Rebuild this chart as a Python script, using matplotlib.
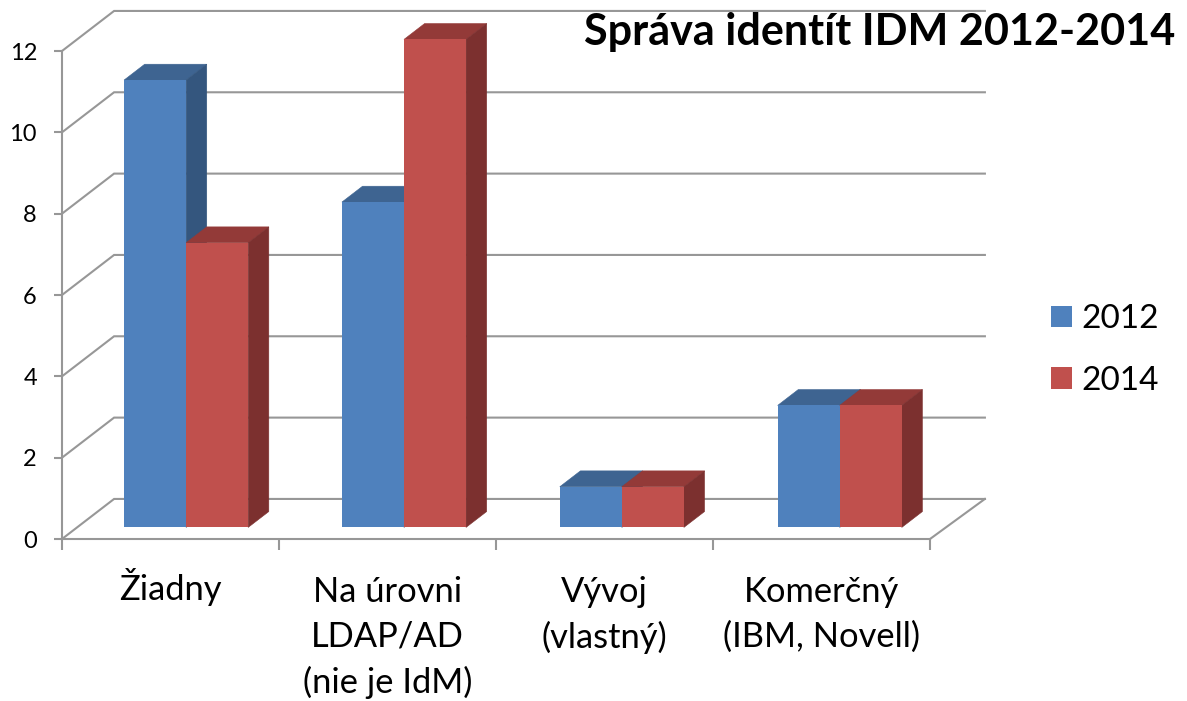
#!/usr/bin/env python3
"""Pseudo-3D clustered columns: identity management 2012 vs 2014."""

import matplotlib
matplotlib.use("Agg")
import matplotlib.pyplot as plt
from matplotlib.patches import Patch, Polygon

plt.rcParams["font.family"] = ["Lato", "DejaVu Sans"]

# -------- DATA ----------
CATEGORIES = ["Žiadny", "Na úrovni\nLDAP/AD\n(nie je IdM)", "Vývoj\n(vlastný)", "Komerčný\n(IBM, Novell)"]
VALUES_2012 = [11, 8, 1, 3]
VALUES_2014 = [7, 12, 1, 3]
SERIES_NAMES = ["2012", "2014"]
Y_TICKS = [0, 2, 4, 6, 8, 10, 12]
TITLE = "Správa identít IDM 2012-2014"

# -------- STYLE ----------
W, H = 1187, 701
LEFT, RIGHT, TOP, BOTTOM = 62, 930, 51, 539   # plot box in pixels
GREY = "#979797"
BLUE, BLUE_TOP, BLUE_SIDE = "#4F81BD", "#3E6491", "#34567E"
RED, RED_TOP, RED_SIDE = "#C0504D", "#933A38", "#7C302F"

WALL_DX, WALL_DY = 0.24, 0.985     # back wall offset, in data units
WALL_END = 0.253                   # back wall runs a little past the front edge
BAR_START = 0.286                  # gap from category edge to first bar
BAR_STEP = 1.004
BAR_W = 0.286
BAR_LIFT = 0.285                   # bars stand a bit behind the front edge
BAR_DX, BAR_DY = 0.095, 0.39       # depth of each bar
LABEL_DROP = [20.8, 26.6, 26.6, 26.6]   # points below the axis, per category label


def draw_bar(ax, x, value, front, top, side, z):
    y0, y1 = BAR_LIFT, BAR_LIFT + value
    ax.bar(x, value, width=BAR_W, bottom=y0, align="edge", color=front,
           zorder=z + 0.2, clip_on=False, linewidth=0)
    ax.add_patch(Polygon([(x, y1), (x + BAR_DX, y1 + BAR_DY),
                          (x + BAR_W + BAR_DX, y1 + BAR_DY), (x + BAR_W, y1)],
                         closed=True, facecolor=top, edgecolor=top, lw=0.4, zorder=z, clip_on=False))
    ax.add_patch(Polygon([(x + BAR_W, y0), (x + BAR_W + BAR_DX, y0 + BAR_DY),
                          (x + BAR_W + BAR_DX, y1 + BAR_DY), (x + BAR_W, y1)],
                         closed=True, facecolor=side, edgecolor=side, lw=0.4, zorder=z + 0.1, clip_on=False))


def main():
    fig = plt.figure(figsize=(W / 100, H / 100), dpi=100, facecolor="white")
    ax = fig.add_axes([LEFT / W, 1 - BOTTOM / H, (RIGHT - LEFT) / W, (BOTTOM - TOP) / H])
    ax.set_xlim(0, len(CATEGORIES))
    ax.set_ylim(0, max(Y_TICKS))
    ax.patch.set_visible(False)

    for s in ("top", "right"):
        ax.spines[s].set_visible(False)
    for s in ("left", "bottom"):
        ax.spines[s].set_color(GREY)
        ax.spines[s].set_linewidth(1.5)

    # axis ticks and labels
    ax.set_yticks(Y_TICKS)
    ax.tick_params(axis="y", length=6, width=1.5, color=GREY, labelsize=17, pad=12, labelcolor="black")
    ax.set_xticks(range(len(CATEGORIES) + 1))
    ax.set_xticklabels([])
    ax.tick_params(axis="x", which="major", length=8, width=1.5, color=GREY)
    for i, label in enumerate(CATEGORIES):
        ax.annotate(label, xy=(i + 0.5, 0), xycoords="data", xytext=(0, -LABEL_DROP[i]),
                    textcoords="offset points", ha="center", va="top", fontsize=24.8,
                    linespacing=1.48, color="black", annotation_clip=False)

    # walls and floor
    n = len(CATEGORIES)
    for v in Y_TICKS:
        ax.plot([0, WALL_DX, n + WALL_END], [v, v + WALL_DY, v + WALL_DY], color=GREY,
                lw=1.5, zorder=1, clip_on=False, solid_joinstyle="miter")
    ax.plot([n, n + WALL_END], [0, WALL_DY], color=GREY, lw=1.5, zorder=1, clip_on=False)

    # columns, blue first so that red sits on top of it
    for i in range(n):
        x = i * BAR_STEP + BAR_START
        draw_bar(ax, x, VALUES_2012[i], BLUE, BLUE_TOP, BLUE_SIDE, 3)
        draw_bar(ax, x + BAR_W, VALUES_2014[i], RED, RED_TOP, RED_SIDE, 4)

    fig.text(1175 / W, 1 - 32 / H, TITLE, ha="right", va="center", fontsize=31.1, fontweight="bold", color="black")

    handles = [Patch(facecolor=BLUE, label=SERIES_NAMES[0]), Patch(facecolor=RED, label=SERIES_NAMES[1])]
    fig.legend(handles=handles, loc="center left", bbox_to_anchor=(1041 / W, 1 - 350 / H), frameon=False,
               fontsize=24, handlelength=0.63, handleheight=0.63, handletextpad=0.29, labelspacing=0.95,
               borderpad=0.3, borderaxespad=0)

    fig.savefig("out.png", dpi=100, facecolor="white")
    plt.close(fig)


if __name__ == "__main__":
    main()
